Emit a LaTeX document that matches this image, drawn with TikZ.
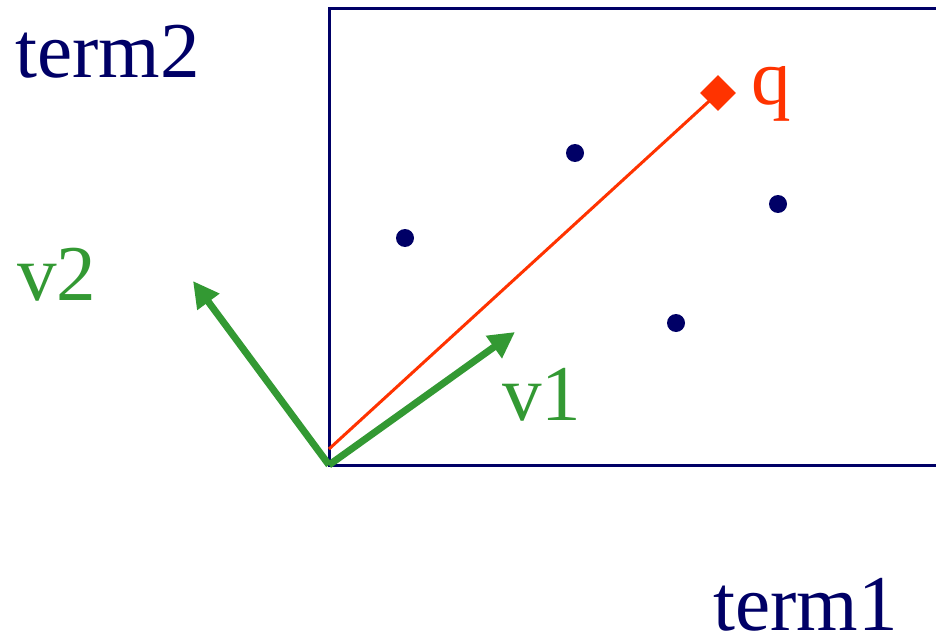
\documentclass[tikz,border=0pt]{standalone}
\usepackage{fontspec}
\setmainfont{Liberation Serif}
\usetikzlibrary{arrows.meta, shapes.geometric, positioning}
\definecolor{termblue}{RGB}{0,0,102}
\definecolor{vecgreen}{RGB}{51,153,51}
\definecolor{queryred}{RGB}{255,51,0}

\begin{document}
\begin{tikzpicture}[x=0.02cm, y=-0.02cm,
    doc/.style={circle, fill=termblue, inner sep=0pt, minimum size=0.36cm},
    query/.style={diamond, fill=queryred, inner sep=0pt, minimum size=0.72cm},
    vec/.style={-{Triangle[length=0.52cm, width=0.52cm]}, line width=0.14cm, vecgreen},
    label/.style={font=\fontsize{45}{45}\selectfont, anchor=base west, inner sep=0pt}
  ]
    \clip (0,0) rectangle (936,642);

    % term space
    \coordinate (o) at (329,465);
    \draw[termblue, line width=0.06cm] (940,9) -- (329,9) -- (329,465) -- (940,465);

    % documents
    \node[doc] (d1) at (405,238) {};
    \node[doc] (d2) at (575,153) {};
    \node[doc] (d3) at (778,204) {};
    \node[doc] (d4) at (676,323) {};

    % query
    \coordinate (qs) at (329,449);
    \node[query] (q) at (718,93) {};
    \draw[queryred, line width=0.06cm] (qs) -- (q.center);

    % basis vectors
    \coordinate (v1tip) at (515,332);
    \coordinate (v2tip) at (193,281);
    \draw[vec] (o) -- (v1tip);
    \draw[vec] (o) -- (v2tip);

    \node[label, text=termblue] (t2) at (15,78) {term2};
    \node[label, text=termblue] (t1) at (713,630) {term1};
    \node[label, text=vecgreen] (l2) at (17,300) {v2};
    \node[label, text=vecgreen] (l1) at (502,420) {v1};
    \node[label, text=queryred] (lq) at (751,105) {q};
  \end{tikzpicture}
\end{document}
